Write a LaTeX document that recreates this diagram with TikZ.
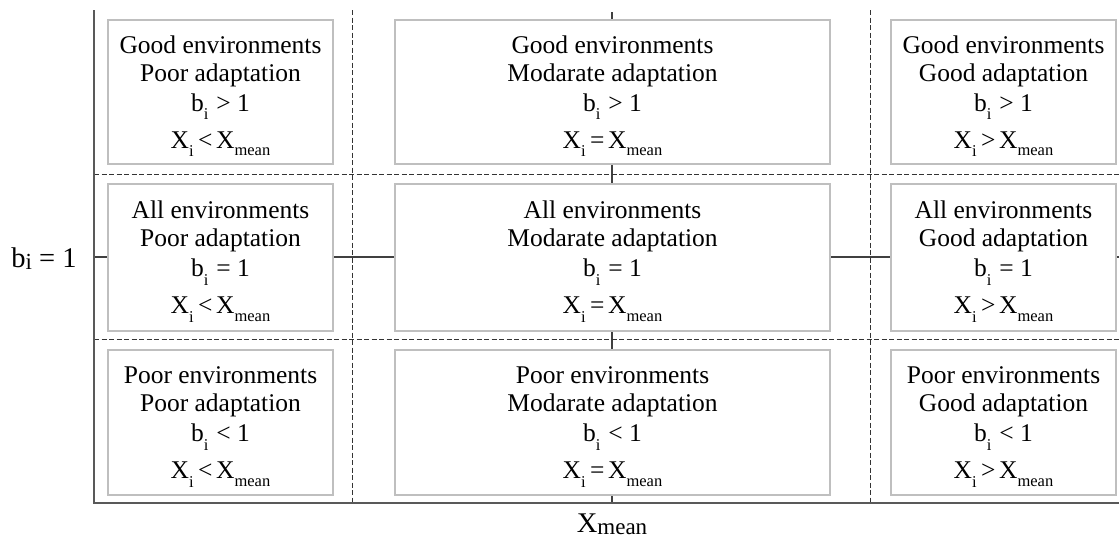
\documentclass[tikz,border=0pt]{standalone}
\usepackage{fontspec}
\setmainfont{Liberation Serif}
\newcommand{\sbi}{\raisebox{-0.32em}{\fontsize{16.5}{16.5}\selectfont i}}
\newcommand{\smean}{\raisebox{-0.28em}{\fontsize{16.5}{16.5}\selectfont mean}}
\newcommand{\rel}[1]{\kern4.5pt#1\kern3.5pt}
\newcommand{\topstrut}{\rule{0pt}{26pt}}
\tikzset{
  axisline/.style={draw=black!65, line width=1.8pt},
  guideline/.style={draw=black!75, line width=1.1pt},
  gridline/.style={draw=black!80, line width=1pt, dash pattern=on 5pt off 2.5pt},
  cellbox/.style={draw=black!25, line width=1.2pt, fill=white, inner sep=0pt,
    align=center, font=\fontsize{25.5}{28}\selectfont},
  colL/.style={minimum width=225pt},
  colM/.style={minimum width=435pt},
  colR/.style={minimum width=225pt},
  axlabel/.style={inner sep=0pt, font=\fontsize{28.5}{30}\selectfont}
}
\begin{document}
\begin{tikzpicture}[x=1pt,y=-1pt]
\useasboundingbox (0,0) rectangle (1119,538);
% guide lines behind boxes
\coordinate (ctop) at (612,12);
\coordinate (cbot) at (612,503);
\coordinate (mleft) at (94,257);
\coordinate (mright) at (1119,257);
\draw[guideline] (ctop) -- (cbot);
\draw[guideline] (mleft) -- (mright);
% boxes
\node[cellbox, colL, minimum height=144pt] (gp) at (220.5,92)
  {\topstrut Good environments\\Poor adaptation\\[2pt]b\sbi\kern1.5pt\ > 1\\[9pt]X\sbi\rel{<}X\smean};
\node[cellbox, colM, minimum height=144pt] (gm) at (612.5,92)
  {\topstrut Good environments\\Modarate adaptation\\[2pt]b\sbi\kern1.5pt\ > 1\\[9pt]X\sbi\rel{=}X\smean};
\node[cellbox, colR, minimum height=144pt] (gg) at (1003.5,92)
  {\topstrut Good environments\\Good adaptation\\[2pt]b\sbi\kern1.5pt\ > 1\\[9pt]X\sbi\rel{>}X\smean};
\node[cellbox, colL, minimum height=147pt] (ap) at (220.5,257.5)
  {\topstrut All environments\\Poor adaptation\\[2pt]b\sbi\kern1.5pt\ = 1\\[9pt]X\sbi\rel{<}X\smean};
\node[cellbox, colM, minimum height=147pt] (am) at (612.5,257.5)
  {\topstrut All environments\\Modarate adaptation\\[2pt]b\sbi\kern1.5pt\ = 1\\[9pt]X\sbi\rel{=}X\smean};
\node[cellbox, colR, minimum height=147pt] (ag) at (1003.5,257.5)
  {\topstrut All environments\\Good adaptation\\[2pt]b\sbi\kern1.5pt\ = 1\\[9pt]X\sbi\rel{>}X\smean};
\node[cellbox, colL, minimum height=145pt] (pp) at (220.5,422.5)
  {\topstrut Poor environments\\Poor adaptation\\[2pt]b\sbi\kern1.5pt\ < 1\\[9pt]X\sbi\rel{<}X\smean};
\node[cellbox, colM, minimum height=145pt] (pm) at (612.5,422.5)
  {\topstrut Poor environments\\Modarate adaptation\\[2pt]b\sbi\kern1.5pt\ < 1\\[9pt]X\sbi\rel{=}X\smean};
\node[cellbox, colR, minimum height=145pt] (pg) at (1003.5,422.5)
  {\topstrut Poor environments\\Good adaptation\\[2pt]b\sbi\kern1.5pt\ < 1\\[9pt]X\sbi\rel{>}X\smean};
% dashed grid
\coordinate (d1t) at (352,10);  \coordinate (d1b) at (352,503);
\coordinate (d2t) at (870,10);  \coordinate (d2b) at (870,503);
\coordinate (h1l) at (94,174);  \coordinate (h1r) at (1119,174);
\coordinate (h2l) at (94,339);  \coordinate (h2r) at (1119,339);
\draw[gridline] (d1t) -- (d1b);
\draw[gridline] (d2t) -- (d2b);
\draw[gridline] (h1l) -- (h1r);
\draw[gridline] (h2l) -- (h2r);
% axes
\coordinate (ytop) at (94,10);
\coordinate (orig) at (94,503);
\coordinate (xend) at (1119,503);
\draw[axisline] (ytop) -- (orig) -- (xend);
% axis labels
\node[axlabel, anchor=base] (blab) at (44,267)
  {b\raisebox{-0.1em}{\fontsize{23}{23}\selectfont i} = 1};
\node[axlabel, anchor=base] (xlab) at (612,532)
  {X\raisebox{-0.08em}{\fontsize{23}{23}\selectfont mean}};
\end{tikzpicture}
\end{document}
